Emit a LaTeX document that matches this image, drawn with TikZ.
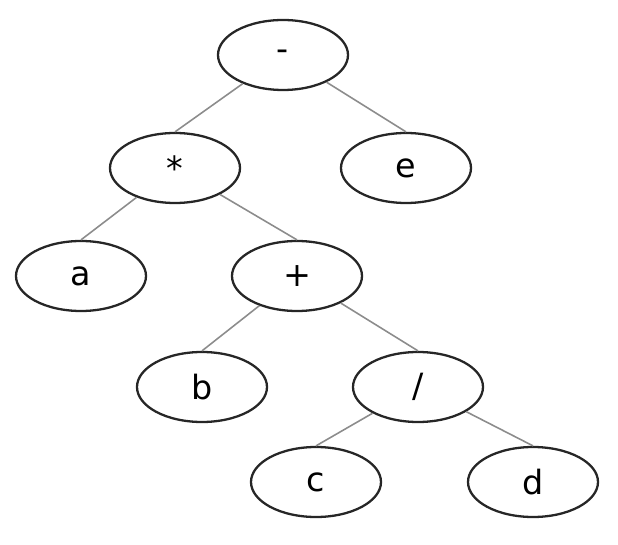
\documentclass[tikz,border=0pt]{standalone}
\usepackage{fontspec}
\setmainfont{DejaVu Sans}
\usetikzlibrary{shapes.geometric}

\begin{document}
\begin{tikzpicture}
  % styles
  \tikzset{
    v/.style={ellipse, draw=black!85, line width=1.3pt, fill=white,
      minimum width=2.6cm, minimum height=1.4cm, inner sep=0pt,
      font=\fontsize{19}{22}\selectfont},
    e/.style={draw=black!45, line width=0.9pt}
  }
  \useasboundingbox (0,0) rectangle (12.36,10.88);

  % coordinates (expression tree, one level per row)
  \coordinate (P1) at (5.66,9.78);   % root
  \coordinate (P2) at (3.50,7.52);   % left of root
  \coordinate (P3) at (8.12,7.52);   % right of root
  \coordinate (P4) at (1.62,5.36);
  \coordinate (P5) at (5.94,5.36);
  \coordinate (P6) at (4.04,3.14);
  \coordinate (P7) at (8.36,3.14);
  \coordinate (P8) at (6.32,1.24);
  \coordinate (P9) at (10.66,1.24);

  % vertices
  \node[v] (minus) at (P1) {-};
  \node[v] (times) at (P2) {*};
  \node[v] (e) at (P3) {e};
  \node[v] (a) at (P4) {a};
  \node[v] (plus) at (P5) {+};
  \node[v] (b) at (P6) {b};
  \node[v] (div) at (P7) {/};
  \node[v] (c) at (P8) {c};
  \node[v] (d) at (P9) {d};

  % edges
  \draw[e] (minus) -- (times.north);
  \draw[e] (minus) -- (e.north);
  \draw[e] (times) -- (a.north);
  \draw[e] (times) -- (plus.north);
  \draw[e] (plus) -- (b.north);
  \draw[e] (plus) -- (div.north);
  \draw[e] (div) -- (c.north);
  \draw[e] (div) -- (d.north);
\end{tikzpicture}
\end{document}
